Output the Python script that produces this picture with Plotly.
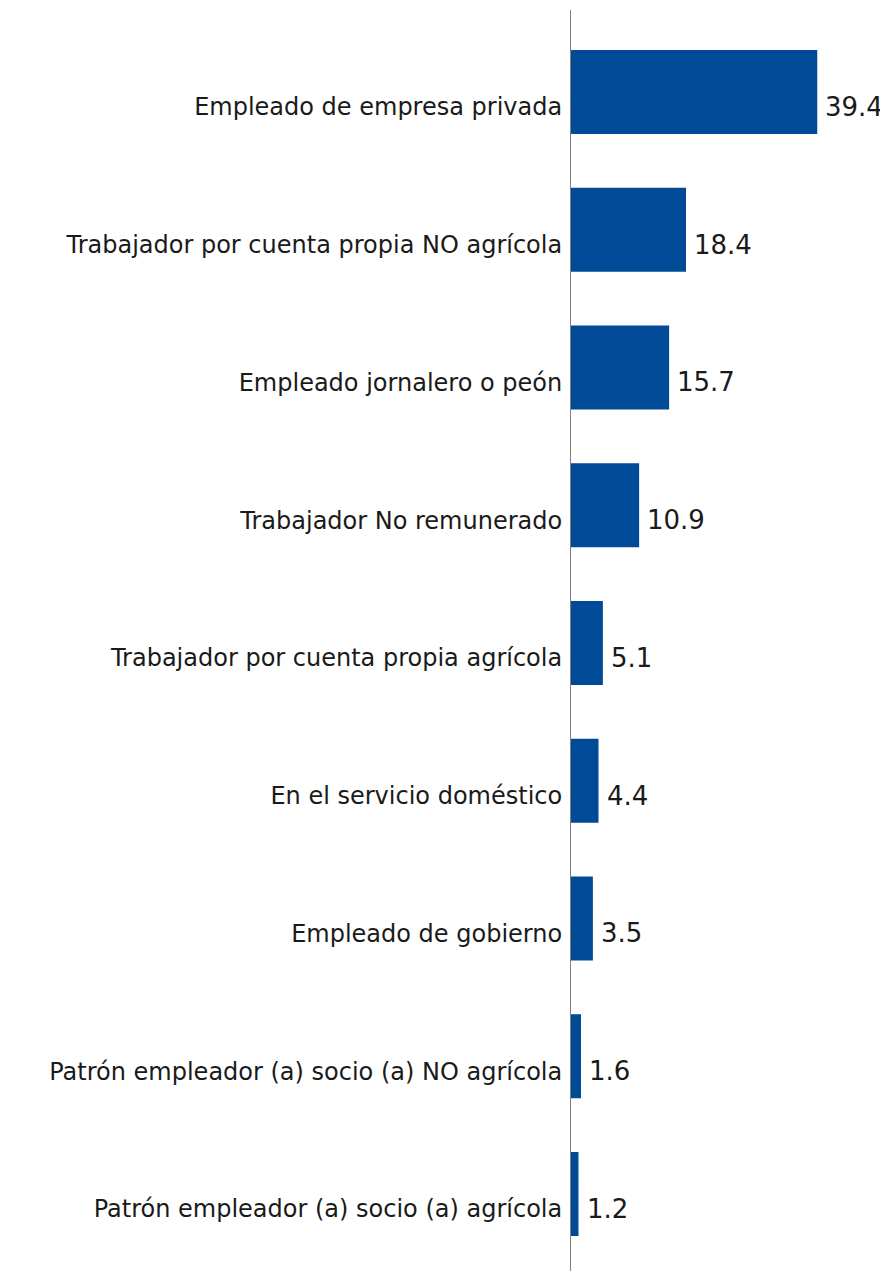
import plotly.graph_objects as go

categories = [
    "Empleado de empresa privada",
    "Trabajador por cuenta propia NO agrícola",
    "Empleado jornalero o peón",
    "Trabajador No remunerado",
    "Trabajador por cuenta propia agrícola",
    "En el servicio doméstico",
    "Empleado de gobierno",
    "Patrón empleador (a) socio (a) NO agrícola",
    "Patrón empleador (a) socio (a) agrícola",
]
values = [39.4, 18.4, 15.7, 10.9, 5.1, 4.4, 3.5, 1.6, 1.2]
labels = [f"{v:.1f}" for v in values]

FONT = "DejaVu Sans"
TXT = "#1a1a1a"

fig = go.Figure(go.Bar(
    x=values, y=categories, orientation="h",
    marker=dict(color="#004a97", line=dict(width=0)),
    width=0.61, hoverinfo="x+y",
))

for cat, val, lab in zip(categories, values, labels):
    fig.add_annotation(
        x=val, y=cat, text=lab, showarrow=False,
        xanchor="left", yanchor="middle", xshift=6, yshift=-15,
        font=dict(family=FONT, size=26, color=TXT),
    )

fig.update_layout(
    width=888, height=1272,
    margin=dict(l=563, r=0, t=2, b=9),
    paper_bgcolor="white", plot_bgcolor="white",
    showlegend=False,
    font=dict(family=FONT, size=24, color=TXT),
    xaxis=dict(range=[0, 52.0], visible=False, fixedrange=True),
    yaxis=dict(
        type="category", categoryorder="array", categoryarray=categories,
        range=[8.559, -0.595],
        showline=True, linecolor="#808080", linewidth=1,
        ticks="", ticklabelstandoff=3, ticklabelshift=-15,
        showgrid=False, zeroline=False,
        tickfont=dict(family=FONT, size=24, color=TXT),
    ),
)

fig.write_html("out.html")
